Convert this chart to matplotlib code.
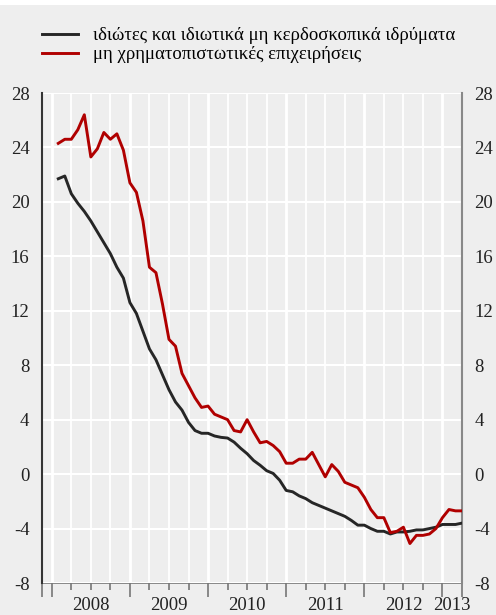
import numpy
import matplotlib
matplotlib.use('Agg')
import matplotlib.pyplot as plt

plt.rcParams['font.family'] = ['Liberation Serif', 'DejaVu Serif']
plt.rcParams['axes.unicode_minus'] = False

# monthly values, Jan 2008 .. Mar 2013 (month index 1..63, end of month)
months = numpy.arange(1, 64)
households = [21.7, 21.9, 20.6, 19.9, 19.3, 18.6, 17.8, 17.0, 16.2, 15.2,
              14.4, 12.6, 11.8, 10.5, 9.2, 8.4, 7.3, 6.2, 5.3, 4.7,
              3.8, 3.2, 3.0, 3.0, 2.8, 2.7, 2.65, 2.35, 1.9, 1.5,
              1.0, 0.65, 0.25, 0.05, -0.45, -1.2, -1.3, -1.6, -1.8, -2.1,
              -2.3, -2.5, -2.7, -2.9, -3.1, -3.4, -3.75, -3.75, -4.0, -4.2,
              -4.2, -4.4, -4.25, -4.25, -4.2, -4.1, -4.1, -4.0, -3.9, -3.7,
              -3.7, -3.7, -3.6]
firms = [24.3, 24.6, 24.6, 25.3, 26.4, 23.3, 23.9, 25.1, 24.6, 25.0,
         23.8, 21.4, 20.7, 18.6, 15.2, 14.8, 12.5, 9.9, 9.4, 7.4,
         6.5, 5.6, 4.9, 5.0, 4.4, 4.2, 4.0, 3.2, 3.1, 4.0,
         3.1, 2.3, 2.4, 2.1, 1.65, 0.8, 0.8, 1.1, 1.1, 1.6,
         0.7, -0.2, 0.7, 0.2, -0.6, -0.8, -1.0, -1.7, -2.6, -3.2,
         -3.2, -4.3, -4.2, -3.9, -5.1, -4.5, -4.5, -4.4, -4.0, -3.2,
         -2.6, -2.7, -2.7]
labels = ('ιδιώτες και ιδιωτικά μη κερδοσκοπικά ιδρύματα',
          'μη χρηματοπιστωτικές επιχειρήσεις')
years = ['2008', '2009', '2010', '2011', '2012', '2013']
year_pos = [6, 18, 30, 42, 54, 61.5]
yticks = list(range(-8, 29, 4))

bg = '#eeeeee'
fs = 13.5

fig = plt.figure(figsize=(4.96, 6.15), dpi=100, facecolor=bg)
ax = fig.add_axes([42/496, 1-583/615, 420/496, 490/615])
ax.set_facecolor(bg)

# white grid
for q in range(0, 63, 3):
    lw = 2.0 if q % 12 == 0 else 1.3
    ax.axvline(q, color='white', lw=lw, zorder=1)
for yv in yticks:
    ax.axhline(yv, color='white', lw=1.5, zorder=1)

l1, = ax.plot(months, households, color='#262626', lw=2.1, zorder=3)
l2, = ax.plot(months, firms, color='#b00000', lw=2.1, zorder=3)

ax.set_xlim(-1.5, 63)
ax.set_ylim(-8, 28)
ax.set_yticks(yticks)
ax.tick_params(axis='y', length=0, pad=9, labelsize=fs, colors='#222222',
               labelleft=True, labelright=True)

ax.set_xticks(year_pos)
ax.set_xticklabels(years)
ax.tick_params(axis='x', length=0, pad=10, labelsize=fs, colors='#222222')

sec = ax.secondary_xaxis('bottom')
sec.set_xticks([-1.5, 0, 12, 24, 36, 48, 60, 63])
sec.set_xticks(list(range(3, 63, 3)), minor=True)
sec.tick_params(which='major', length=10, width=1.2, color='#777777', labelbottom=False)
sec.tick_params(which='minor', length=5, width=1.2, color='#777777', labelbottom=False)
sec.spines['bottom'].set_color('#777777')
sec.spines['bottom'].set_linewidth(1.2)

ax.spines['top'].set_visible(False)
ax.spines['bottom'].set_visible(False)
ax.spines['left'].set_color('#333333')
ax.spines['left'].set_linewidth(1.5)
ax.spines['right'].set_color('#888888')
ax.spines['right'].set_linewidth(1.5)

fig.legend([l1, l2], labels, loc='upper left', bbox_to_anchor=(42/496, 1-27/615),
           frameon=False, fontsize=fs, handlelength=1.9, handletextpad=0.8,
           labelspacing=0.1, borderaxespad=0, borderpad=0)

# thin white strip along the top edge
fig.patches.append(plt.Rectangle((0, 1-5/615), 1, 5/615, transform=fig.transFigure,
                                 facecolor='white', edgecolor='none'))

plt.savefig('out.png', dpi=100, facecolor=bg)
